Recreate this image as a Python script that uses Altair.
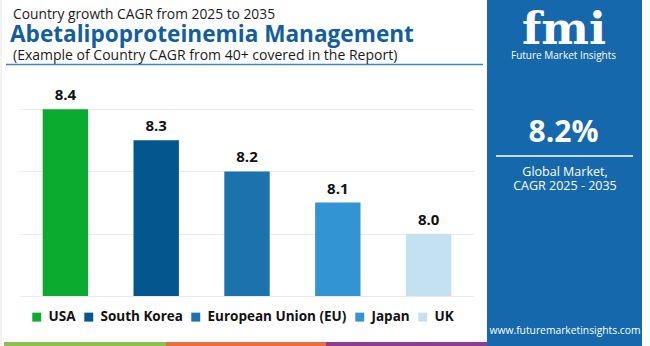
import altair as alt
import pandas as pd

countries = ["USA", "South Korea", "European Union (EU)", "Japan", "UK"]
cagr = [8.4, 8.3, 8.2, 8.1, 8.0]
bar_colors = ["#0aab2e", "#04578e", "#1c72ad", "#3394d4", "#c3e1f1"]
y_ticks = [7.8, 7.9, 8.0, 8.1, 8.2, 8.3, 8.4, 8.5]

title_top = "Country growth CAGR from 2025 to 2035"
title_main = "Abetalipoproteinemia Management"
title_sub = "(Example of Country CAGR from 40+ covered in the Report)"
kpi_value = "8.2%"
kpi_lines = ["Global Market,", "CAGR 2025 - 2035"]
brand = "fmi"
brand_name = "Future Market Insights"
website = "www.futuremarketinsights.com"

FONT = "Open Sans"
df = pd.DataFrame({"country": countries, "cagr": cagr})
one = pd.DataFrame({"k": [0]})

base = alt.Chart(df)

bars = base.mark_bar().encode(
    x=alt.X("country:N", sort=countries, axis=None,
            scale=alt.Scale(paddingInner=0.5, paddingOuter=0.25)),
    y=alt.Y("cagr:Q", scale=alt.Scale(domain=[7.8, 8.5], zero=False, nice=False),
            axis=alt.Axis(values=y_ticks, grid=True, labels=False, ticks=False,
                          domain=False, title=None, gridColor="#ebebeb", gridWidth=1)),
    y2=alt.datum(7.8),
    color=alt.Color("country:N", sort=countries,
                    scale=alt.Scale(domain=countries, range=bar_colors),
                    legend=alt.Legend(title=None, orient="none", direction="horizontal",
                                      legendX=10, legendY=232, symbolType="square",
                                      symbolSize=80, symbolStrokeWidth=0,
                                      labelFont=FONT, labelFontSize=13.5, labelFontWeight="bold",
                                      labelColor="#111111", labelOffset=5, columnPadding=6,
                                      padding=0)),
)

labels = base.mark_text(dy=-14, font=FONT, fontSize=15, fontWeight="bold",
                        color="#111111", baseline="middle").encode(
    x=alt.X("country:N", sort=countries),
    y="cagr:Q",
    text=alt.Text("cagr:Q", format=".1f"),
)

def deco_rule(x, x2, y, y2, color, width):
    return alt.Chart(one).mark_rule(color=color, strokeWidth=width).encode(
        x=alt.value(x), x2=alt.value(x2), y=alt.value(y), y2=alt.value(y2))

def deco_rect(x, x2, y, y2, color):
    return alt.Chart(one).mark_rect(color=color).encode(
        x=alt.value(x), x2=alt.value(x2), y=alt.value(y), y2=alt.value(y2))

def deco_text(txt, x, y, size, color, weight="normal", align="left", font=FONT):
    return alt.Chart(one).mark_text(text=txt, font=font, fontSize=size, fontWeight=weight,
                                    color=color, align=align, baseline="alphabetic").encode(
        x=alt.value(x), y=alt.value(y))

panel = deco_rect(467, 622, -78, 268, "#1668ad")
left_border = deco_rule(-19, -19, -78, 268, "#e6e6e6", 1)
blue_line = deco_rule(-14, 463, -13.5, -13.5, "#3a86c4", 1.5)
stripe_g = deco_rect(-16, 146, 264, 268, "#8cc152")
stripe_o = deco_rect(146, 306, 264, 268, "#ee6a3f")
stripe_p = deco_rect(306, 467, 264, 268, "#8e3b96")

t1 = deco_text(title_top, -7, -59.5, 13.8, "#1a1a1a")
t2 = deco_text(title_main, -10, -36.5, 22.6, "#135e9e", weight="bold")
t3 = deco_text(title_sub, -7, -18.5, 14, "#1a1a1a")

logo = deco_text(brand, 544, -34, 45, "#ffffff", weight="bold", align="center",
                 font="DejaVu Serif")
logo_name = deco_text(brand_name, 543.5, -19.5, 10, "#ffffff", align="center")
kpi = deco_text(kpi_value, 543.5, 63.7, 30, "#ffffff", weight="bold", align="center")
kpi_rule = deco_rule(476, 613, 78, 78, "#ffffff", 1.5)
kpi_l1 = deco_text(kpi_lines[0], 545, 98, 12.5, "#ffffff", align="center")
kpi_l2 = deco_text(kpi_lines[1], 545, 111.5, 12.5, "#ffffff", align="center")
web = deco_text(website, 545, 256, 10.3, "#ffffff", align="center")

chart = alt.layer(
    bars, labels, panel, left_border, blue_line, stripe_g, stripe_o, stripe_p,
    t1, t2, t3, logo, logo_name, kpi, kpi_rule, kpi_l1, kpi_l2, web,
).properties(
    width=454, height=218,
    padding={"left": 20, "top": 78, "right": 176, "bottom": 50},
    autosize=alt.AutoSizeParams(type="none"),
    background="#ffffff",
).configure_view(stroke=None)

chart.save("out.html", embed_options={"renderer": "svg", "actions": False})
